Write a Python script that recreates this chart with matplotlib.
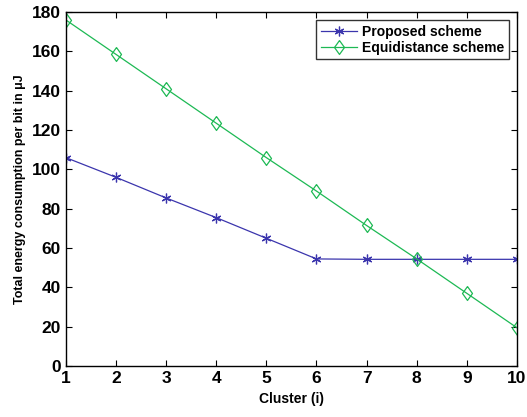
import numpy as np
import matplotlib
matplotlib.use("Agg")
import matplotlib.pyplot as plt

plt.rcParams["font.family"] = ["Liberation Sans", "DejaVu Sans"]
plt.rcParams["font.weight"] = "bold"

clusters = [1, 2, 3, 4, 5, 6, 7, 8, 9, 10]
proposed = [106, 96, 85.5, 75.5, 65, 54.5, 54.3, 54.3, 54.3, 54.3]
equidistance = [176, 158.5, 141, 123.5, 106, 89, 71.5, 54.5, 37, 19.5]

# MATLAB-style diamond: a bit taller than wide
diamond = [(0, 1), (0.72, 0), (0, -1), (-0.72, 0), (0, 1)]

fig = plt.figure(figsize=(5.27, 4.17), dpi=100)
ax = fig.add_axes([0.125, 0.122, 0.856, 0.849])

ax.plot(clusters, proposed, color="#3b35ad", lw=0.9, marker=(6, 2, 0), ms=7,
        mew=0.9, label="Proposed scheme")
ax.plot(clusters, equidistance, color="#1db954", lw=0.9, marker=diamond, ms=10,
        mfc="none", mew=0.9, label="Equidistance scheme")

ax.set_xlim(1, 10)
ax.set_ylim(0, 180)
ax.set_xticks(clusters)
ax.set_yticks(np.arange(0, 181, 20))
ax.tick_params(direction="in", labelsize=12.5, length=4, width=0.8,
               top=True, right=True)
for lab in ax.get_xticklabels() + ax.get_yticklabels():
    lab.set_fontweight("bold")
for s in ax.spines.values():
    s.set_linewidth(1.0)

ax.set_xlabel("Cluster (i)", fontsize=10, fontweight="bold")
ax.set_ylabel("Total energy consumption per bit in \u03bcJ", fontsize=9, fontweight="bold")

leg = ax.legend(loc="upper right", fontsize=10, frameon=True, fancybox=False,
                edgecolor="black", borderaxespad=0.6, handlelength=2.6,
                borderpad=0.3, labelspacing=0.15, handletextpad=0.4)
leg.get_frame().set_linewidth(1.0)
for t in leg.get_texts():
    t.set_fontweight("bold")

fig.savefig("out.png", dpi=100)
